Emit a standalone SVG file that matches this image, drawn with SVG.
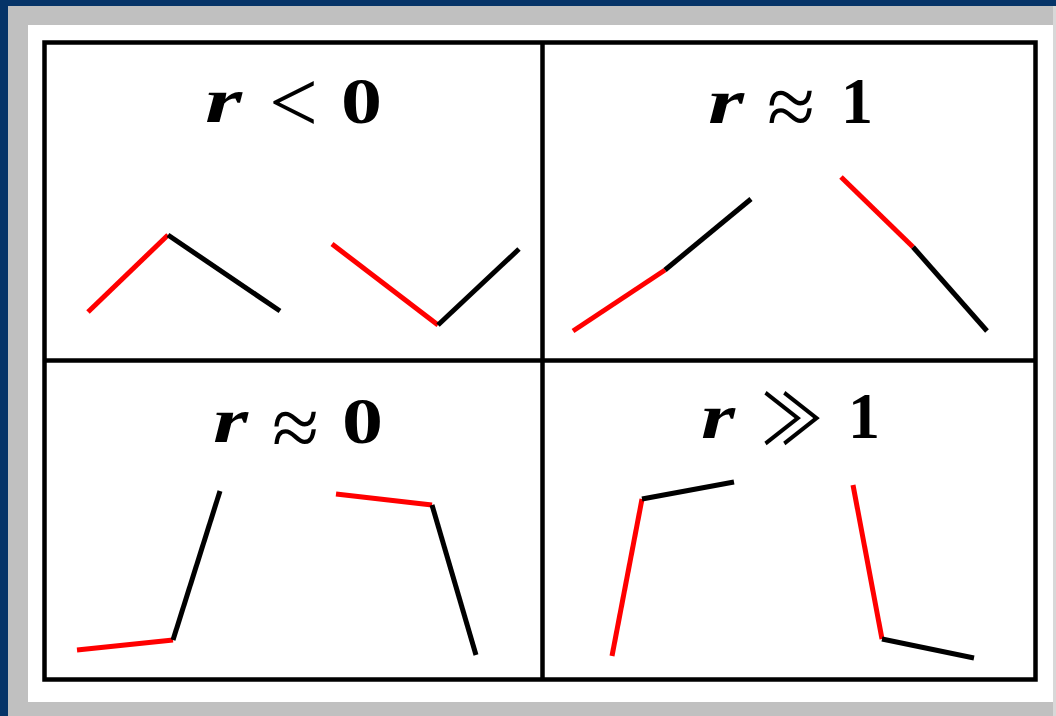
<svg xmlns="http://www.w3.org/2000/svg" width="1056" height="716" viewBox="0 0 1056 716">
<style>
.lbl{font-family:"Liberation Serif","DejaVu Serif",serif;fill:#000}
.var{font-weight:bold;font-style:italic;font-size:64px}
.rel{font-family:"Liberation Serif","DejaVu Sans",serif;font-weight:normal;font-size:88px}
.gg{font-family:"Noto Sans CJK JP","DejaVu Sans",sans-serif;font-weight:normal;font-size:70px}
.num{font-weight:bold;font-size:66px}
.r{stroke:#ff0000;stroke-width:5;fill:none;stroke-linecap:butt}
.k{stroke:#000;stroke-width:5;fill:none;stroke-linecap:butt}
.grid{stroke:#000;stroke-width:4.5;fill:none}
</style>
<rect x="0" y="0" width="1056" height="716" fill="#c0c0c0"/>
<rect x="0" y="0" width="1056" height="6" fill="#063468"/>
<rect x="0" y="0" width="8" height="716" fill="#063468"/>
<rect x="1053" y="6" width="3" height="710" fill="#d8d8d8"/>
<rect x="28" y="25" width="1025" height="677" fill="#fff"/>
<g id="frame">
<rect class="grid" x="44.5" y="42.5" width="991" height="637"/>
<line class="grid" x1="542.5" y1="42.5" x2="542.5" y2="679.5"/>
<line class="grid" x1="44.5" y1="360.5" x2="1035.5" y2="360.5"/>
</g>
<g id="label-neg">
<text class="lbl var" x="205" y="122" textLength="37" lengthAdjust="spacingAndGlyphs">r</text>
<text class="lbl rel" x="269" y="132" textLength="49" lengthAdjust="spacingAndGlyphs">&lt;</text>
<text class="lbl num" x="341" y="123" textLength="41" lengthAdjust="spacingAndGlyphs">0</text>
</g>
<g id="label-one">
<text class="lbl var" x="708" y="123" textLength="36" lengthAdjust="spacingAndGlyphs">r</text>
<text class="lbl rel" x="767" y="136" textLength="48" lengthAdjust="spacingAndGlyphs">≈</text>
<text class="lbl num" x="841" y="123" textLength="32" lengthAdjust="spacingAndGlyphs">1</text>
</g>
<g id="label-zero">
<text class="lbl var" x="213" y="442" textLength="35" lengthAdjust="spacingAndGlyphs">r</text>
<text class="lbl rel" x="272" y="457" textLength="47" lengthAdjust="spacingAndGlyphs">≈</text>
<text class="lbl num" x="342" y="443" textLength="41" lengthAdjust="spacingAndGlyphs">0</text>
</g>
<g id="label-much">
<text class="lbl var" x="701" y="438" textLength="34" lengthAdjust="spacingAndGlyphs">r</text>
<text class="lbl gg" x="761" y="445" textLength="62" lengthAdjust="spacingAndGlyphs">≫</text>
<text class="lbl num" x="848" y="438" textLength="32" lengthAdjust="spacingAndGlyphs">1</text>
</g>
<g id="connectors">
<line class="r" x1="88" y1="312" x2="168" y2="235"/>
<line class="k" x1="168" y1="235" x2="280" y2="311"/>
<line class="r" x1="332" y1="244" x2="438" y2="325"/>
<line class="k" x1="438" y1="325" x2="519" y2="249"/>
<line class="r" x1="573" y1="331" x2="665" y2="270"/>
<line class="k" x1="665" y1="270" x2="751" y2="199"/>
<line class="r" x1="841" y1="177" x2="913" y2="247"/>
<line class="k" x1="913" y1="247" x2="987" y2="331"/>
<line class="r" x1="77" y1="650" x2="173" y2="640"/>
<line class="k" x1="173" y1="640" x2="220" y2="491"/>
<line class="r" x1="336" y1="494" x2="432" y2="505"/>
<line class="k" x1="432" y1="505" x2="476" y2="655"/>
<line class="r" x1="612" y1="656" x2="642" y2="499"/>
<line class="k" x1="642" y1="499" x2="734" y2="482"/>
<line class="r" x1="853" y1="485" x2="882" y2="639"/>
<line class="k" x1="882" y1="639" x2="974" y2="658"/>
</g>
</svg>
